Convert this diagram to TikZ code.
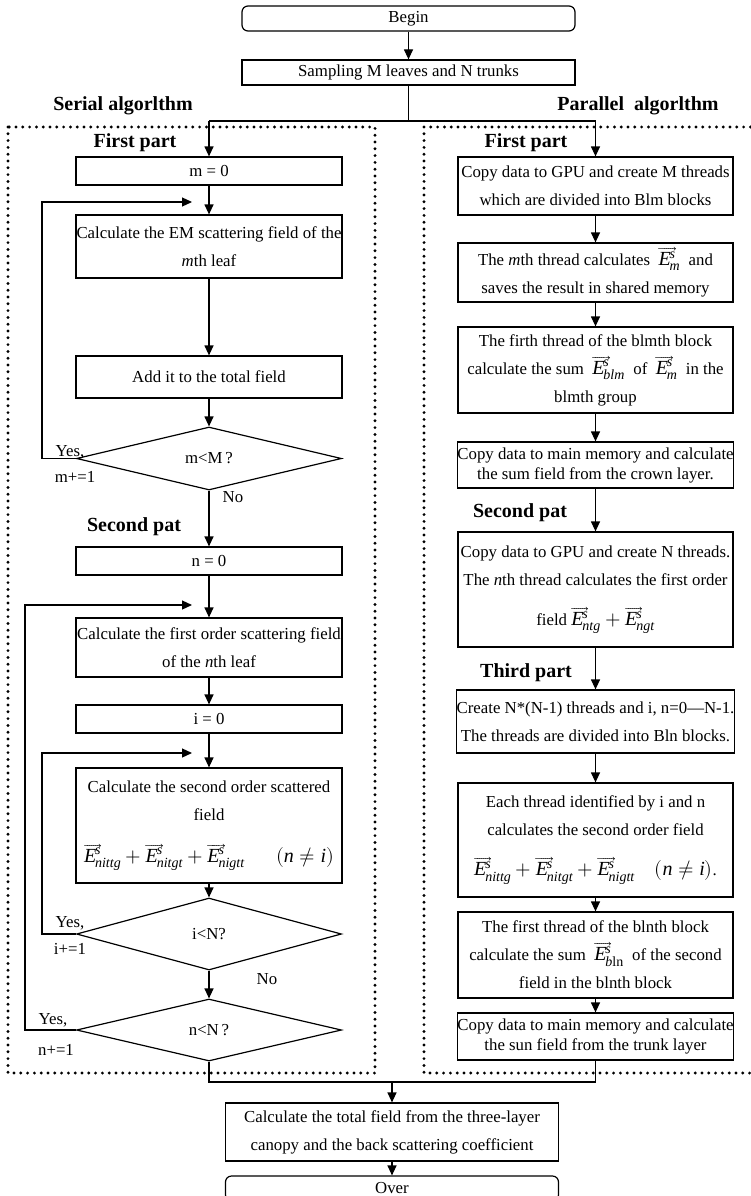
\documentclass[tikz,border=0pt]{standalone}
\usepackage{amsmath}
\usepackage{unicode-math}
\setmainfont{Liberation Serif}
\usetikzlibrary{shapes.geometric, arrows.meta}

\newcommand{\Ev}[1]{\overrightarrow{\textit{E}\mkern5mu}\mkern-6mu^{\textit{s}}_{#1}}
\newcommand{\fml}[1]{{\fontsize{20}{20}\selectfont$#1$}}

\begin{document}
\begin{tikzpicture}[x=1pt, y=-1pt, line width=1.2pt,
  >={Triangle[length=10pt, width=9pt]},
  every node/.style={font=\fontsize{16.8}{28}\selectfont},
  head/.style={font=\fontsize{20}{24}\selectfont\bfseries},
  lbox/.style={draw, align=center, inner sep=0pt, minimum width=266pt},
  rbox/.style={draw, align=center, inner sep=0pt, minimum width=275pt},
  mbox/.style={draw, align=center, inner sep=0pt, minimum width=333pt},
  cond/.style={draw, diamond, inner sep=0pt, minimum width=265pt},
  arr/.style={->},
  dots/.style={line width=3.2pt, line cap=round, dash pattern=on 0pt off 6.8pt}]
\useasboundingbox (0,0) rectangle (751,1196);

% the two dotted frames
\draw[dots] (8,127) rectangle (375,1073);
\draw[dots] (424,127) rectangle (770,1073);

\node[mbox, rounded corners=6pt, minimum height=25pt] (begin) at (408.5,18.5) {Begin};
\node[mbox, minimum height=25pt] (samp) at (408.5,72.5) {Sampling M leaves and N trunks};
\node[head] (serial) at (123,106) {Serial algorlthm};
\node[head] (parallel) at (638,106) {Parallel\ \ algorlthm};
\node[head] (first1) at (135,143) {First part};
\node[head] (first2) at (526,143) {First part};

% serial side
\node[lbox, minimum height=28pt] (m0) at (209,171) {m = 0};
\node[lbox, minimum height=63pt] (em) at (209,246.5) {Calculate the EM scattering field of the\\\textit{m}th leaf};
\node[lbox, minimum height=42pt] (add) at (209,377) {Add it to the total field};
\node[cond, minimum height=63pt] (dM) at (209,458.5) {m<M\,?};
\node (yesM) at (70,452) {Yes,};
\node (incM) at (75,477) {m+=1};
\node (noM) at (233,497) {No};
\node[head] (second1) at (134,527) {Second pat};
\node[lbox, minimum height=28pt] (n0) at (209,561) {n = 0};
\node[lbox, minimum height=59pt] (fo) at (209,647.5) {Calculate the first order scattering field\\of the \textit{n}th leaf};
\node[lbox, minimum height=28pt] (i0) at (209,719) {i = 0};
\node[lbox, minimum height=115pt] (so) at (209,825.5) {Calculate the second order scattered\\field\\[14pt]\makebox[250pt]{\fml{\Ev{\textit{nittg}}+\Ev{\textit{nitgt}}+\Ev{\textit{nigtt}}}\hfill\fml{(\textit{n}\neq\textit{i})}}};
\node[cond, minimum height=72pt] (dN) at (209,934) {i<N?};
\node (yesN) at (70,923) {Yes,};
\node (incI) at (70,949) {i+=1};
\node (noN) at (267,979) {No};
\node[cond, minimum height=62pt] (dn) at (209,1030) {n<N\,?};
\node (yesn) at (53,1020) {Yes,};
\node (incn) at (56,1050) {n+=1};

% parallel side
\node[rbox, minimum height=58pt] (r1) at (595.5,186) {Copy data to GPU and create M threads\\which are divided into Blm blocks};
\node[rbox, minimum height=59pt] (r2) at (595.5,272.5) {The \textit{m}th thread calculates \ \fml{\Ev{\textit{m}}}\ \ and\\saves the result in shared memory};
\node[rbox, minimum height=86pt] (r3) at (595.5,370) {The firth thread of the blmth block\\calculate the sum \ \fml{\Ev{\textit{blm}}}\ \ of \ \fml{\Ev{\textit{m}}}\ \ in the\\blmth group};
\node[rbox, minimum height=46pt, font=\fontsize{16.8}{20}\selectfont] (r4) at (595.5,465) {Copy data to main memory and calculate\\the sum field from the crown layer.};
\node[head] (second2) at (520,513) {Second pat};
\node[rbox, minimum height=115pt] (r5) at (595.5,589.5) {Copy data to GPU and create N threads.\\The \textit{n}th thread calculates the first order\\[12pt]field \fml{\Ev{\textit{ntg}}+\Ev{\textit{ngt}}}};
\node[head] (third) at (526,673) {Third part};
\node[rbox, minimum height=63pt] (r6) at (595.5,721.5) {Create N*(N-1) threads and i, n=0---N-1.\\The threads are divided into Bln blocks.};
\node[rbox, minimum height=114pt] (r7) at (595.5,840) {Each thread identified by i and n\\calculates the second order field\\[12pt]\fml{\Ev{\textit{nittg}}+\Ev{\textit{nitgt}}+\Ev{\textit{nigtt}}\quad(\textit{n}\neq\textit{i})}.};
\node[rbox, minimum height=86pt] (r8) at (595.5,955) {The first thread of the blnth block\\calculate the sum \ \fml{\Ev{\textit{b}\mathrm{ln}}}\ \ of the second\\field in the blnth block};
\node[rbox, minimum height=47pt, font=\fontsize{16.8}{19.5}\selectfont] (r9) at (595.5,1036.5) {Copy data to main memory and calculate\\the sun field from the trunk layer};

\node[mbox, minimum height=58pt] (fin) at (392,1132) {Calculate the total field from the three-layer\\canopy and the back scattering coefficient};
\node[mbox, rounded corners=6pt, minimum height=25pt] (over) at (392,1188.5) {Over};

% connectors
\coordinate (split) at (408.5,121);
\coordinate (splitL) at (209,121);
\coordinate (splitR) at (595.5,121);
\draw[arr] (begin) -- (samp);
\draw (samp) -- (split);
\draw (splitL) -- (splitR);
\draw[arr] (splitL) -- (m0);
\draw[arr] (splitR) -- (r1);

\draw[arr] (m0) -- (em);
\draw[arr] (em) -- (add);
\draw[arr] (add) -- (dM);
\draw[arr] (dM) -- (n0);
\draw[arr] (n0) -- (fo);
\draw[arr] (fo) -- (i0);
\draw[arr] (i0) -- (so);
\draw[arr] (so) -- (dN);
\draw[arr] (dN) -- (dn);

\coordinate (backM) at (192,202);
\coordinate (backn) at (192,605);
\coordinate (backi) at (192,753);
\draw[arr] (dM.west) -- ++(-34,0) |- (backM);
\draw[arr] (dN.west) -- ++(-34,0) |- (backi);
\draw[arr] (dn.west) -- ++(-51,0) |- (backn);

\draw[arr] (r1) -- (r2);
\draw[arr] (r2) -- (r3);
\draw[arr] (r3) -- (r4);
\draw[arr] (r4) -- (r5);
\draw[arr] (r5) -- (r6);
\draw[arr] (r6) -- (r7);
\draw[arr] (r7) -- (r8);
\draw[arr] (r8) -- (r9);

\coordinate (mergeL) at (209,1082);
\coordinate (mergeR) at (595.5,1082);
\coordinate (merge) at (392,1082);
\draw (dn) -- (mergeL) -- (mergeR) -- (r9);
\draw[arr] (merge) -- (fin);
\draw[arr] (fin) -- (over);
\end{tikzpicture}
\end{document}
